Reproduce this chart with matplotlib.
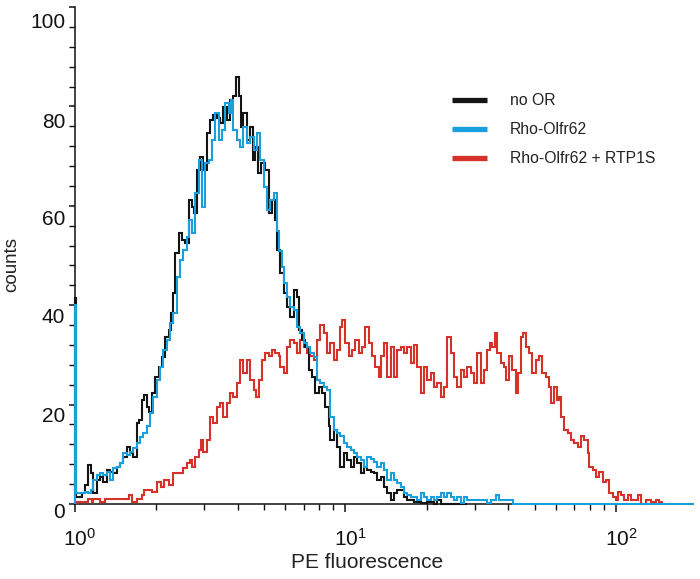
import numpy as np
import matplotlib
matplotlib.use('Agg')
import matplotlib.pyplot as plt
from matplotlib.lines import Line2D
from matplotlib.ticker import MultipleLocator, LogLocator, NullFormatter
from matplotlib.transforms import ScaledTranslation

plt.rcParams['font.family'] = ['Liberation Sans', 'DejaVu Sans']
plt.rcParams['mathtext.fontset'] = 'custom'
plt.rcParams['mathtext.rm'] = 'Liberation Sans'
plt.rcParams['mathtext.it'] = 'Liberation Sans:italic'

# ---------------- data (log10 of PE fluorescence = left bin edge, counts) ----------------
series_labels = ['no OR', 'Rho-Olfr62', 'Rho-Olfr62 + RTP1S']
x_max_log = 2.285
y_ticks = [0, 20, 40, 60, 80, 100]
x_ticks = [1, 10, 100]
x_tick_labels = [r'$\mathregular{10^{0}}$', r'$\mathregular{10^{1}}$', r'$\mathregular{10^{2}}$']

black_log = [0.000, 0.004, 0.025, 0.037, 0.049, 0.058, 0.065, 0.080, 0.093, 0.105,
             0.117, 0.130, 0.142, 0.154, 0.167, 0.179, 0.191, 0.204, 0.216, 0.228,
             0.237, 0.247, 0.256, 0.265, 0.274, 0.284, 0.296, 0.309, 0.321, 0.333,
             0.346, 0.356, 0.363, 0.370, 0.383, 0.395, 0.407, 0.420, 0.432, 0.441,
             0.451, 0.463, 0.475, 0.488, 0.500, 0.512, 0.525, 0.537, 0.549, 0.562,
             0.574, 0.586, 0.596, 0.605, 0.613, 0.623, 0.636, 0.648, 0.657, 0.667,
             0.675, 0.688, 0.704, 0.716, 0.728, 0.741, 0.747, 0.759, 0.772, 0.784,
             0.796, 0.809, 0.819, 0.827, 0.840, 0.852, 0.864, 0.877, 0.889, 0.901,
             0.914, 0.926, 0.938, 0.944, 0.957, 0.969, 0.981, 0.994, 1.006, 1.019,
             1.031, 1.043, 1.056, 1.068, 1.080, 1.093, 1.105, 1.117, 1.130, 1.142,
             1.154, 1.167, 1.179, 1.191, 1.204, 1.216, 1.228, 1.253, 1.278, 1.302,
             1.327, 1.340, 1.352]
black_counts = [41.5, 1.5, 2.2, 3.8, 7.8, 6.2, 2.2, 4.8, 5.4, 4.5,
                6.8, 6.5, 6.2, 7.5, 8.2, 9.5, 11.5, 10.2, 9.5, 16.3,
                16.9, 20.9, 21.9, 19.6, 18.6, 22.3, 25.6, 27.6, 29.6, 33.7,
                35.0, 38.5, 42.4, 50.5, 54.5, 53.1, 52.5, 61.2, 59.8, 58.5,
                67.2, 69.9, 67.2, 74.6, 77.3, 78.3, 77.6, 76.6, 79.9, 77.3,
                81.3, 82.0, 86.0, 82.0, 75.9, 78.6, 73.2, 75.9, 69.2, 71.9,
                66.6, 68.6, 67.2, 58.5, 61.2, 57.1, 51.1, 46.4, 42.4, 39.7,
                37.7, 43.1, 41.7, 35.0, 33.0, 31.6, 27.0, 25.6, 22.3, 23.6,
                22.3, 19.6, 15.6, 12.9, 14.9, 11.5, 7.5, 10.2, 8.9, 7.5,
                9.5, 8.2, 6.2, 7.5, 6.8, 6.5, 6.2, 4.8, 5.5, 3.5,
                2.2, 0.8, 2.2, 2.8, 2.8, 1.5, 0.8, 0.5, 0.2, 0.4,
                0.0, 0.8, 0.0]
black_end_log = 1.45

blue_log = [0.000, 0.004, 0.037, 0.049, 0.058, 0.068, 0.080, 0.093, 0.105, 0.117,
            0.130, 0.142, 0.154, 0.167, 0.179, 0.191, 0.204, 0.216, 0.228, 0.241,
            0.253, 0.265, 0.278, 0.290, 0.302, 0.315, 0.327, 0.340, 0.352, 0.364,
            0.377, 0.389, 0.401, 0.414, 0.420, 0.432, 0.444, 0.457, 0.469, 0.481,
            0.494, 0.506, 0.519, 0.531, 0.543, 0.556, 0.568, 0.577, 0.586, 0.599,
            0.611, 0.623, 0.636, 0.648, 0.660, 0.673, 0.685, 0.698, 0.710, 0.722,
            0.735, 0.747, 0.755, 0.764, 0.772, 0.784, 0.796, 0.809, 0.821, 0.833,
            0.846, 0.858, 0.870, 0.883, 0.895, 0.907, 0.920, 0.932, 0.944, 0.957,
            0.969, 0.981, 0.994, 1.006, 1.019, 1.031, 1.043, 1.056, 1.068, 1.080,
            1.093, 1.105, 1.117, 1.130, 1.142, 1.154, 1.167, 1.179, 1.191, 1.204,
            1.216, 1.228, 1.241, 1.265, 1.278, 1.290, 1.302, 1.315, 1.327, 1.340,
            1.352, 1.364, 1.377, 1.389, 1.401, 1.414, 1.426, 1.438, 1.451, 1.525,
            1.537, 1.556, 1.568, 1.621]
blue_counts = [40.0, 2.2, 2.5, 2.2, 2.8, 4.8, 5.8, 6.2, 5.8, 6.5,
               4.8, 7.2, 7.5, 8.2, 10.2, 9.9, 10.5, 11.2, 12.2, 13.5,
               14.2, 15.6, 18.3, 21.6, 24.9, 27.6, 31.0, 33.0, 36.4, 38.4,
               45.7, 49.1, 51.1, 53.8, 57.1, 54.5, 62.6, 69.2, 59.8, 68.6,
               69.2, 73.2, 78.6, 73.2, 75.3, 80.6, 78.6, 81.3, 75.3, 73.2,
               71.9, 75.9, 72.6, 73.9, 71.2, 74.6, 69.2, 63.8, 59.2, 61.2,
               62.6, 55.0, 51.0, 47.7, 44.4, 41.7, 39.7, 39.0, 35.7, 34.4,
               32.4, 31.6, 30.4, 29.6, 24.9, 24.3, 23.6, 22.9, 17.6, 14.9,
               14.2, 13.6, 12.2, 11.5, 10.9, 10.2, 9.5, 8.9, 7.5, 9.5,
               9.0, 8.5, 7.5, 8.2, 6.8, 4.8, 6.2, 4.8, 4.2, 3.5,
               2.2, 1.8, 1.5, 0.8, 2.2, 1.5, 0.8, 1.5, 0.8, 1.5,
               2.2, 1.5, 2.2, 1.5, 0.8, 1.5, 0.2, 1.5, 0.8, 0.2,
               0.8, 1.8, 0.8, 0.0]
blue_end_log = 2.285

red_log = [0.004, 0.049, 0.062, 0.068, 0.093, 0.111, 0.198, 0.210, 0.228, 0.247,
           0.256, 0.284, 0.305, 0.317, 0.330, 0.349, 0.363, 0.401, 0.414, 0.426,
           0.432, 0.444, 0.457, 0.465, 0.475, 0.488, 0.500, 0.512, 0.525, 0.537,
           0.549, 0.562, 0.574, 0.586, 0.599, 0.611, 0.623, 0.636, 0.648, 0.660,
           0.670, 0.679, 0.691, 0.704, 0.716, 0.728, 0.741, 0.753, 0.759, 0.772,
           0.784, 0.796, 0.809, 0.821, 0.833, 0.846, 0.858, 0.870, 0.883, 0.895,
           0.907, 0.920, 0.932, 0.944, 0.957, 0.969, 0.981, 0.988, 1.000, 1.012,
           1.025, 1.037, 1.049, 1.062, 1.074, 1.086, 1.099, 1.111, 1.123, 1.130,
           1.142, 1.154, 1.167, 1.179, 1.191, 1.204, 1.216, 1.228, 1.241, 1.253,
           1.265, 1.278, 1.290, 1.302, 1.315, 1.327, 1.340, 1.352, 1.364, 1.377,
           1.389, 1.401, 1.414, 1.426, 1.438, 1.451, 1.463, 1.475, 1.488, 1.500,
           1.512, 1.525, 1.534, 1.543, 1.552, 1.562, 1.574, 1.586, 1.593, 1.605,
           1.617, 1.630, 1.638, 1.648, 1.657, 1.667, 1.679, 1.691, 1.704, 1.716,
           1.728, 1.741, 1.753, 1.759, 1.772, 1.781, 1.790, 1.796, 1.809, 1.821,
           1.833, 1.846, 1.858, 1.870, 1.883, 1.895, 1.901, 1.914, 1.926, 1.938,
           1.951, 1.963, 1.975, 1.988, 2.000, 2.006, 2.019, 2.031, 2.043, 2.056,
           2.080, 2.093, 2.111, 2.130, 2.148, 2.160]
red_counts = [0.5, 1.1, 0.5, 1.1, 0.5, 1.0, 1.8, 0.5, 1.0, 1.8,
              2.8, 2.5, 4.5, 3.5, 4.8, 3.8, 6.2, 7.2, 8.2, 8.9,
              7.5, 9.5, 10.9, 12.9, 10.5, 12.9, 17.5, 16.2, 19.6, 20.3,
              17.5, 20.3, 22.3, 21.6, 24.3, 29.0, 26.3, 29.0, 24.9, 22.9,
              21.6, 24.9, 29.0, 30.4, 29.7, 31.0, 30.4, 29.7, 27.6, 26.3,
              31.6, 33.0, 32.4, 30.4, 33.0, 31.6, 30.4, 29.7, 29.0, 33.0,
              36.0, 34.4, 30.4, 32.4, 29.0, 31.0, 35.7, 37.0, 32.4, 29.7,
              31.0, 33.0, 30.4, 31.6, 35.7, 32.4, 29.7, 27.6, 25.6, 29.7,
              32.4, 25.6, 31.6, 25.6, 31.0, 31.6, 30.4, 31.6, 28.4, 32.0,
              27.6, 22.3, 27.6, 24.9, 26.3, 23.6, 24.3, 21.6, 23.6, 33.6,
              30.4, 25.6, 23.6, 27.0, 25.6, 27.6, 26.3, 24.3, 30.4, 24.3,
              27.0, 31.0, 32.4, 31.6, 34.4, 30.4, 28.4, 27.6, 24.9, 29.7,
              27.0, 22.3, 26.3, 33.6, 34.4, 31.6, 30.4, 26.3, 29.0, 29.7,
              26.3, 25.6, 23.6, 20.3, 23.6, 20.9, 21.6, 17.5, 14.9, 14.2,
              12.9, 12.2, 11.5, 13.7, 12.9, 10.2, 7.5, 6.8, 5.5, 6.5,
              4.4, 4.8, 2.2, 1.5, 0.8, 2.5, 1.8, 0.8, 1.8, 0.8,
              1.8, 0.0, 0.8, 0.5, 0.8, 0.5]
red_end_log = 2.169

colors = {'no OR': '#141414', 'Rho-Olfr62': '#19a0dc', 'Rho-Olfr62 + RTP1S': '#d6322a'}

# ---------------- figure ----------------
fig = plt.figure(figsize=(7.0, 5.79), dpi=100)
ax = fig.add_axes([75 / 700, 1 - 504 / 579, 618 / 700, 497 / 579])

def draw(logs, counts, end_log, color, z):
    edges = 10 ** np.append(np.asarray(logs, float), end_log)
    ax.stairs(counts, edges, baseline=0, color=color, lw=1.5, zorder=z, clip_on=False)

draw(red_log, red_counts, red_end_log, colors['Rho-Olfr62 + RTP1S'], 3)
draw(black_log, black_counts, black_end_log, colors['no OR'], 4)
draw(blue_log, blue_counts, blue_end_log, colors['Rho-Olfr62'], 5)

ax.set_xscale('log')
ax.set_xlim(1, 10 ** x_max_log)
ax.set_ylim(0, 100)

for s in ['top', 'right']:
    ax.spines[s].set_visible(False)
for s in ['left', 'bottom']:
    ax.spines[s].set_linewidth(1.1)
    ax.spines[s].set_color('#111111')

ax.set_xticks(x_ticks)
ax.set_xticklabels(x_tick_labels)
ax.xaxis.set_minor_locator(LogLocator(base=10, subs=np.arange(2, 10)))
ax.xaxis.set_minor_formatter(NullFormatter())
ax.tick_params(axis='x', which='major', direction='out', length=6, width=1.1,
               labelsize=15, pad=11, colors='#111111')
ax.tick_params(axis='x', which='minor', direction='out', length=4, width=1.0, colors='#111111')

ax.set_yticks(y_ticks)
ax.yaxis.set_minor_locator(MultipleLocator(4))
ax.tick_params(axis='y', which='major', direction='out', length=4, width=1.1,
               labelsize=15, pad=3, colors='#111111')
ax.tick_params(axis='y', which='minor', direction='out', length=4, width=1.0, colors='#111111')

# small vertical shift of y tick labels (they sit slightly below their ticks)
y_shift_px = [6, 10, 10, 12, 14, 14]
for tick, d in zip(ax.yaxis.get_major_ticks(), y_shift_px):
    tick.label1.set_transform(tick.label1.get_transform() +
                              ScaledTranslation(0, -d / 100, fig.dpi_scale_trans))
for tick in ax.xaxis.get_major_ticks():
    tick.label1.set_transform(tick.label1.get_transform() +
                              ScaledTranslation(5 / 100, 0, fig.dpi_scale_trans))

ax.set_xlabel('PE fluorescence', fontsize=15, color='#222222')
ax.xaxis.set_label_coords((367 - 75) / 618, (504 - 553) / 497)
ax.set_ylabel('counts', fontsize=13.5, color='#222222')
ax.yaxis.set_label_coords((20 - 75) / 618, (504 - 264) / 497)

handles = [Line2D([], [], color=colors[l], lw=3.8, solid_capstyle='butt') for l in series_labels]
leg = ax.legend(handles, series_labels, loc='upper left',
                bbox_to_anchor=(452 / 700, 1 - 93 / 579), bbox_transform=fig.transFigure,
                frameon=False, borderpad=0, borderaxespad=0, fontsize=11.3,
                handlelength=2.25, handletextpad=1.45, labelspacing=0.9)
for t in leg.get_texts():
    t.set_color('#222222')

fig.savefig('out.png', dpi=100, facecolor='white')
